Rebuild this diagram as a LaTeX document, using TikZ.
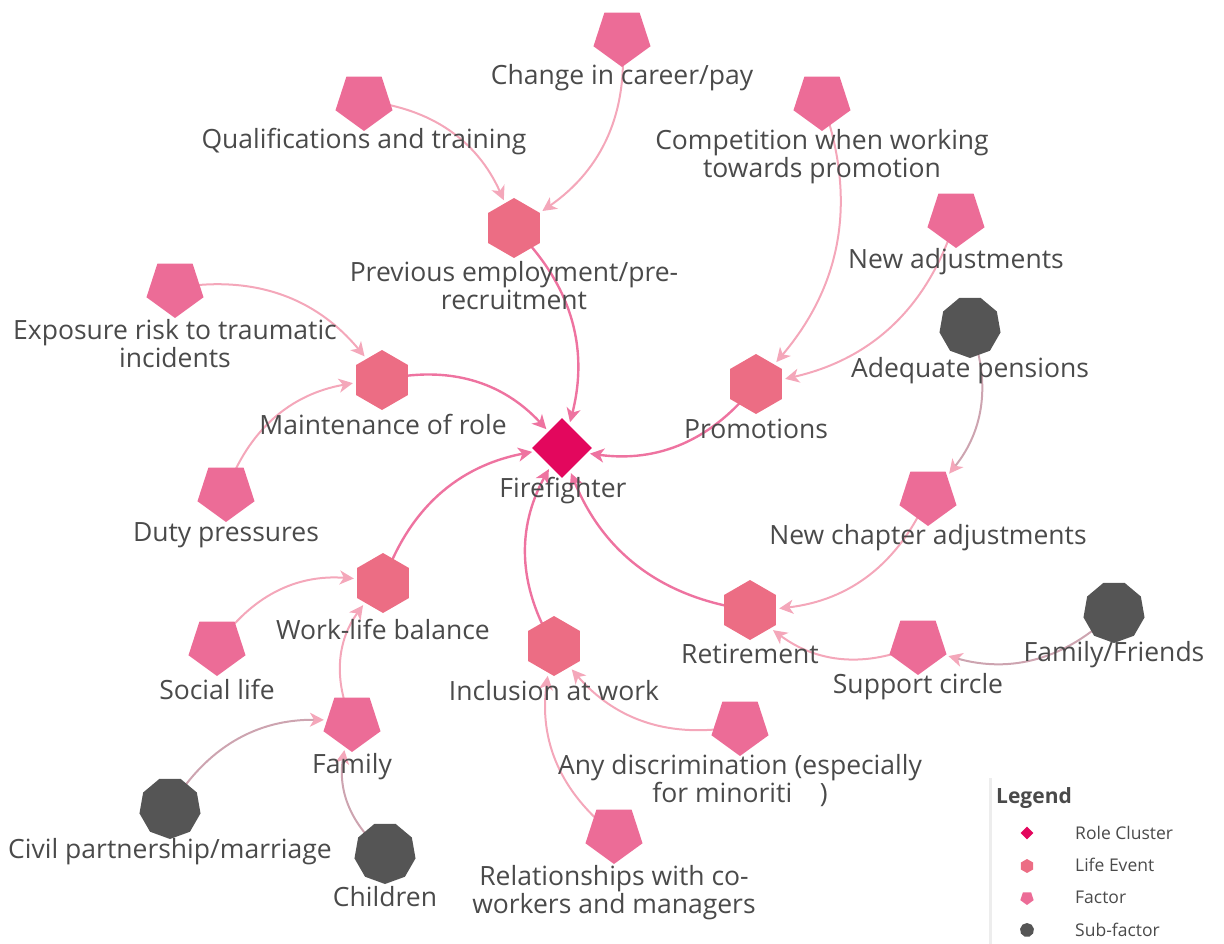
\documentclass[tikz,border=0pt]{standalone}
\usepackage{fontspec}
\setmainfont{Open Sans}
\usetikzlibrary{shapes.geometric,arrows.meta}
\pgfdeclarelayer{bg}
\pgfsetlayers{bg,main}

\definecolor{rolec}{HTML}{E3075D}
\definecolor{eventc}{HTML}{EC6D84}
\definecolor{factorc}{HTML}{EC6C97}
\definecolor{subc}{HTML}{555555}
\definecolor{toroleline}{HTML}{EE73A0}
\definecolor{toeventline}{HTML}{F4A7BA}
\definecolor{fromsubline}{HTML}{CDA4B0}
\definecolor{txt}{HTML}{4A4A4A}

\tikzset{
  role/.style={diamond, fill=rolec, minimum width=60pt, minimum height=60pt, inner sep=0pt},
  event/.style={regular polygon, regular polygon sides=6, shape border rotate=30,
    fill=eventc, minimum size=60pt, inner sep=0pt},
  factor/.style={regular polygon, regular polygon sides=5, shape border rotate=180,
    fill=factorc, minimum size=60pt, inner sep=0pt},
  subf/.style={regular polygon, regular polygon sides=9, shape border rotate=180,
    fill=subc, minimum size=62pt, inner sep=0pt},
  lbl/.style={text=txt, align=center, inner sep=0pt,
    font=\fontsize{26.5}{28}\selectfont},
  torole/.style={draw=toroleline, line width=2.4pt,
    -{Stealth[length=14pt,width=14pt,inset=4pt]}, shorten >=3pt},
  toevent/.style={draw=toeventline, line width=2pt,
    -{Stealth[length=14pt,width=14pt,inset=4pt]}, shorten >=3pt},
  fromsub/.style={draw=fromsubline, line width=2pt,
    -{Stealth[length=14pt,width=14pt,inset=4pt,color=toeventline]}, shorten >=3pt},
  legtext/.style={text=txt, anchor=west, inner sep=0pt, font=\fontsize{17.5}{20}\selectfont},
}

\begin{document}
\begin{tikzpicture}[x=1pt,y=-1pt]
\useasboundingbox (0,0) rectangle (1224,944);

% role cluster
\node[role] (ff) at (562,448) {};
% life events
\node[event] (prev)  at (514,228) {};
\node[event] (maint) at (382,380) {};
\node[event] (promo) at (756,384) {};
\node[event] (wlb)   at (383,583) {};
\node[event] (incl)  at (554,646) {};
\node[event] (ret)   at (750,610) {};
% factors
\node[factor] (career) at (622,37)  {};
\node[factor] (qual)   at (364,101) {};
\node[factor] (comp)   at (822,101) {};
\node[factor] (newadj) at (956,218) {};
\node[factor] (expo)   at (175,288) {};
\node[factor] (duty)   at (226,492) {};
\node[factor] (social) at (217,646) {};
\node[factor] (family) at (352,722) {};
\node[factor] (discr)  at (740,726) {};
\node[factor] (rel)    at (614,834) {};
\node[factor] (chap)   at (928,496) {};
\node[factor] (supp)   at (918,645) {};
% sub-factors
\node[subf] (pens)  at (970,327)  {};
\node[subf] (ffr)   at (1114,612) {};
\node[subf] (civil) at (170,808)  {};
\node[subf] (child) at (385,853)  {};

% connectors
\begin{pgfonlayer}{bg}
  \draw[torole] (prev.center)  to[bend left=30] (ff);
  \draw[torole] (maint.center) to[bend left=30] (ff);
  \draw[torole] (promo.center) to[bend left=30] (ff);
  \draw[torole] (wlb.center)   to[bend left=30] (ff);
  \draw[torole] (incl.center)  to[bend left=30] (ff);
  \draw[torole] (ret.center)   to[bend left=30] (ff);

  \draw[toevent] (career.center) to[bend left=30] (prev);
  \draw[toevent] (qual.center)   to[bend left=30] (prev);
  \draw[toevent] (expo.center)   to[bend left=30] (maint);
  \draw[toevent] (duty.center)   to[bend left=30] (maint);
  \draw[toevent] (comp.center)   to[bend left=30] (promo);
  \draw[toevent] (newadj.center) to[bend left=30] (promo);
  \draw[toevent] (chap.center)   to[bend left=30] (ret);
  \draw[toevent] (supp.center)   to[bend left=30] (ret);
  \draw[toevent] (social.center) to[bend left=30] (wlb);
  \draw[toevent] (family.center) to[bend left=30] (wlb);
  \draw[toevent] (discr.center)  to[bend left=30] (incl);
  \draw[toevent] (rel.center)    to[bend left=30] (incl);

  \draw[fromsub] (pens.center)  to[bend left=30] (chap);
  \draw[fromsub] (ffr.center)   to[bend left=30] (supp);
  \draw[fromsub] (civil.center) to[bend left=30] (family);
  \draw[fromsub] (child.center) to[bend left=30] (family);
\end{pgfonlayer}

% labels
\node[lbl] (ff-l)     at (563,491) {Firefighter};
\node[lbl] (prev-l)   at (514,286) {Previous employment/pre-\\recruitment};
\node[lbl] (maint-l)  at (383,424) {Maintenance of role};
\node[lbl] (promo-l)  at (756,429) {Promotions};
\node[lbl] (wlb-l)    at (383,629) {Work-life balance};
\node[lbl] (incl-l)   at (554,691) {Inclusion at work};
\node[lbl] (ret-l)    at (750,654) {Retirement};
\node[lbl] (career-l) at (622,78)  {Change in career/pay};
\node[lbl] (qual-l)   at (364,142) {Qualifications and training};
\node[lbl] (comp-l)   at (822,157) {Competition when working\\towards promotion};
\node[lbl] (newadj-l) at (956,262) {New adjustments};
\node[lbl] (expo-l)   at (175,344) {Exposure risk to traumatic\\incidents};
\node[lbl] (duty-l)   at (226,535) {Duty pressures};
\node[lbl] (social-l) at (217,689) {Social life};
\node[lbl] (family-l) at (352,767) {Family};
\node[lbl] (discr-l)  at (740,781) {Any discrimination (especially\\for minoriti\phantom{es})};
\node[lbl] (rel-l)    at (614,893) {Relationships with co-\\workers and managers};
\node[lbl] (chap-l)   at (928,538) {New chapter adjustments};
\node[lbl] (supp-l)   at (918,687) {Support circle};
\node[lbl] (pens-l)   at (970,371) {Adequate pensions};
\node[lbl] (ffr-l)    at (1114,655) {Family/Friends};
\node[lbl] (civil-l)  at (170,852) {Civil partnership/marriage};
\node[lbl] (child-l)  at (385,897) {Children};

% legend card
\draw[black!7, line width=3pt] (990,778) -- (990,944);
\node[text=txt, anchor=west, inner sep=0pt, font=\fontsize{21}{24}\selectfont\bfseries] (leg) at (996,798) {Legend};
\node[diamond, fill=rolec, minimum width=13pt, minimum height=13pt, inner sep=0pt] (k1) at (1027,833) {};
\node[regular polygon, regular polygon sides=6, shape border rotate=30, fill=eventc, minimum size=14pt, inner sep=0pt] (k2) at (1027,866) {};
\node[regular polygon, regular polygon sides=5, shape border rotate=180, fill=factorc, minimum size=14pt, inner sep=0pt] (k3) at (1027,898) {};
\node[regular polygon, regular polygon sides=9, fill=subc, minimum size=14pt, inner sep=0pt] (k4) at (1027,930) {};
\node[legtext] (k1-l) at (1075,833) {Role Cluster};
\node[legtext] (k2-l) at (1075,865) {Life Event};
\node[legtext] (k3-l) at (1075,897) {Factor};
\node[legtext] (k4-l) at (1075,930) {Sub-factor};
\end{tikzpicture}
\end{document}
